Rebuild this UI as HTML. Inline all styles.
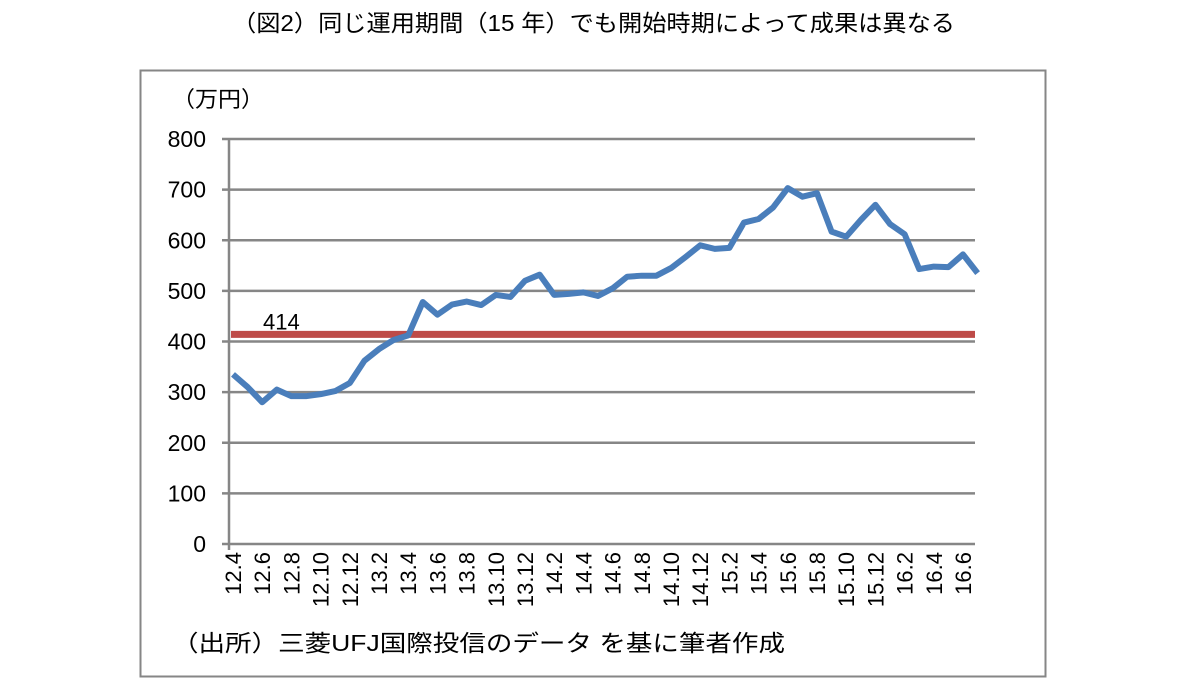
<!DOCTYPE html>
<html><head><meta charset="utf-8"><style>
body{margin:0;background:#fff;width:1197px;height:693px;overflow:hidden;font-family:"Liberation Sans","Noto Sans CJK JP",sans-serif}
</style></head><body>
<svg width="1197" height="693" style="position:absolute;left:0;top:0">
<text x="232" y="31" textLength="723" lengthAdjust="spacingAndGlyphs" font-size="23" fill="#000" font-family="Liberation Sans, Noto Sans CJK JP, sans-serif">（図2）同じ運用期間（15 年）でも開始時期によって成果は異なる</text>
<rect x="140.5" y="70.5" width="905" height="606" fill="none" stroke="#868686" stroke-width="2"/>
<text x="172" y="107" textLength="92" lengthAdjust="spacingAndGlyphs" font-size="22" font-family="Liberation Sans, Noto Sans CJK JP, sans-serif">（万円）</text>
<g id="grid"></g><g id="yt"></g><g id="xt"></g><g id="series"></g>
<text x="172" y="651" textLength="613" lengthAdjust="spacingAndGlyphs" font-size="23" font-family="Liberation Sans, Noto Sans CJK JP, sans-serif">（出所）三菱UFJ国際投信のデータ を基に筆者作成</text>
</svg>
<script>
const yTicks=[0,100,200,300,400,500,600,700,800];
const months=["12.4","12.5","12.6","12.7","12.8","12.9","12.10","12.11","12.12","13.1","13.2","13.3","13.4","13.5","13.6","13.7","13.8","13.9","13.10","13.11","13.12","14.1","14.2","14.3","14.4","14.5","14.6","14.7","14.8","14.9","14.10","14.11","14.12","15.1","15.2","15.3","15.4","15.5","15.6","15.7","15.8","15.9","15.10","15.11","15.12","16.1","16.2","16.3","16.4","16.5","16.6","16.7"];
const values=[335,310,280,305,292,292,296,302,318,362,385,403,412,478,453,473,479,472,492,488,520,532,492,494,497,490,505,528,530,530,545,567,590,583,585,635,642,665,703,686,693,617,607,640,670,632,612,543,548,547,572,535];
const threshold=414;
const NS="http://www.w3.org/2000/svg";
const x0=233,dx=14.6,yBase=544,yTop=139,xR=975;
const X=i=>x0+i*dx;
const Y=v=>yBase-(v/800)*(yBase-yTop);
function mk(t,a,p){const e=document.createElementNS(NS,t);for(const k in a)e.setAttribute(k,a[k]);p.appendChild(e);return e;}
const grid=document.getElementById('grid'),yt=document.getElementById('yt'),xt=document.getElementById('xt'),ser=document.getElementById('series');
yTicks.forEach(v=>{
 const l=mk('line',{x1:222,x2:xR,y1:Y(v),y2:Y(v),stroke:'#868686','stroke-width':2.5},grid);
 
 
 const t=mk('text',{x:206,y:Y(v)+8,'text-anchor':'end','font-size':23},yt);
 t.textContent=v;
 
 
});
const ax=mk('line',{x1:229,x2:229,y1:yTop,y2:yBase+6,stroke:'#868686','stroke-width':2.5},grid);


months.forEach((m,i)=>{
 if(i%2)return;
 const t=mk('text',{transform:`translate(${X(i)+8},552) rotate(-90)`,'text-anchor':'end','font-size':22},xt);
 t.textContent=m;
 
 
});
const th=mk('line',{x1:231,x2:xR,y1:Y(threshold),y2:Y(threshold),stroke:'#be4b48','stroke-width':7},ser);


const tl=mk('text',{x:263,y:Y(threshold)-5,'font-size':22},ser);
tl.textContent=threshold;


const pts=values.map((v,i)=>X(i)+','+Y(v)).join(' ');
const pl=mk('polyline',{points:pts,fill:'none',stroke:'#4a7ebb','stroke-width':6,'stroke-linejoin':'round'},ser);


</script>
</body></html>
